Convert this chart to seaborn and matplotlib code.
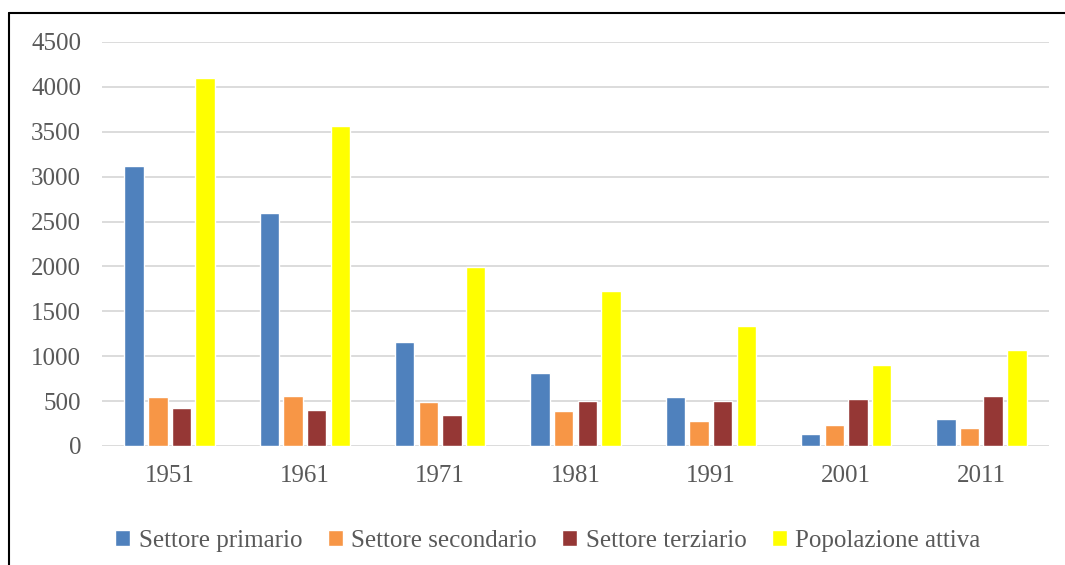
import pandas as pd
import seaborn as sns
import matplotlib.pyplot as plt
from matplotlib.lines import Line2D

# Data
anni = ['1951', '1961', '1971', '1981', '1991', '2001', '2011']
primario = [3120, 2600, 1155, 815, 550, 135, 300]
secondario = [548, 555, 495, 390, 282, 236, 202]
terziario = [422, 400, 340, 505, 497, 522, 553]
popolazione = [4095, 3560, 1995, 1725, 1342, 898, 1073]

settori = ['Settore primario', 'Settore secondario', 'Settore terziario', 'Popolazione attiva']
colori = ['#4F81BD', '#F79646', '#953735', '#FFFF00']

df = pd.DataFrame({
    'anno': anni * 4,
    'valore': primario + secondario + terziario + popolazione,
    'settore': [s for s in settori for _ in anni],
})

sns.set_theme(style='white')
plt.rcParams['font.family'] = ['Liberation Serif', 'DejaVu Serif']

fig = plt.figure(figsize=(10.65, 5.65), dpi=100)
ax = fig.add_axes([102 / 1065, 1 - 446 / 565, (1049 - 102) / 1065, (446 - 42) / 565])

sns.barplot(data=df, x='anno', y='valore', hue='settore', hue_order=settori,
            palette=colori, width=0.7, ax=ax, saturation=1, zorder=3)

# leave small gaps between bars in a group
for p in ax.patches:
    w = p.get_width()
    p.set_x(p.get_x() + w * 0.09)
    p.set_width(w * 0.82)

ax.set_ylim(0, 4500)
ax.set_yticks(range(0, 4501, 500))
ax.set_xlim(-0.5, 6.5)
ax.yaxis.grid(True, color='#D9D9D9', linewidth=1.3, zorder=0)
ax.set_axisbelow(True)
for s in ax.spines.values():
    s.set_visible(False)
ax.set_xlabel('')
ax.set_ylabel('')
ax.tick_params(axis='y', length=0, pad=15, labelsize=18, labelcolor='#595959')
ax.tick_params(axis='x', length=0, pad=14, labelsize=18, labelcolor='#595959')

handles, labels = ax.get_legend_handles_labels()
ax.get_legend().remove()
fig.legend(handles, labels, loc='center', bbox_to_anchor=(548 / 1065, 24 / 565),
           ncol=4, frameon=False, fontsize=18, labelcolor='#595959',
           handlelength=0.6, handleheight=0.6, handletextpad=0.35, columnspacing=1.0)

# chart frame (top and left edges visible)
fig.add_artist(Line2D([9 / 1065, 1], [1 - 13 / 565, 1 - 13 / 565], color='black', linewidth=1.5))
fig.add_artist(Line2D([9 / 1065, 9 / 1065], [0, 1 - 13 / 565], color='black', linewidth=1.5))

fig.savefig('out.png', dpi=100)
